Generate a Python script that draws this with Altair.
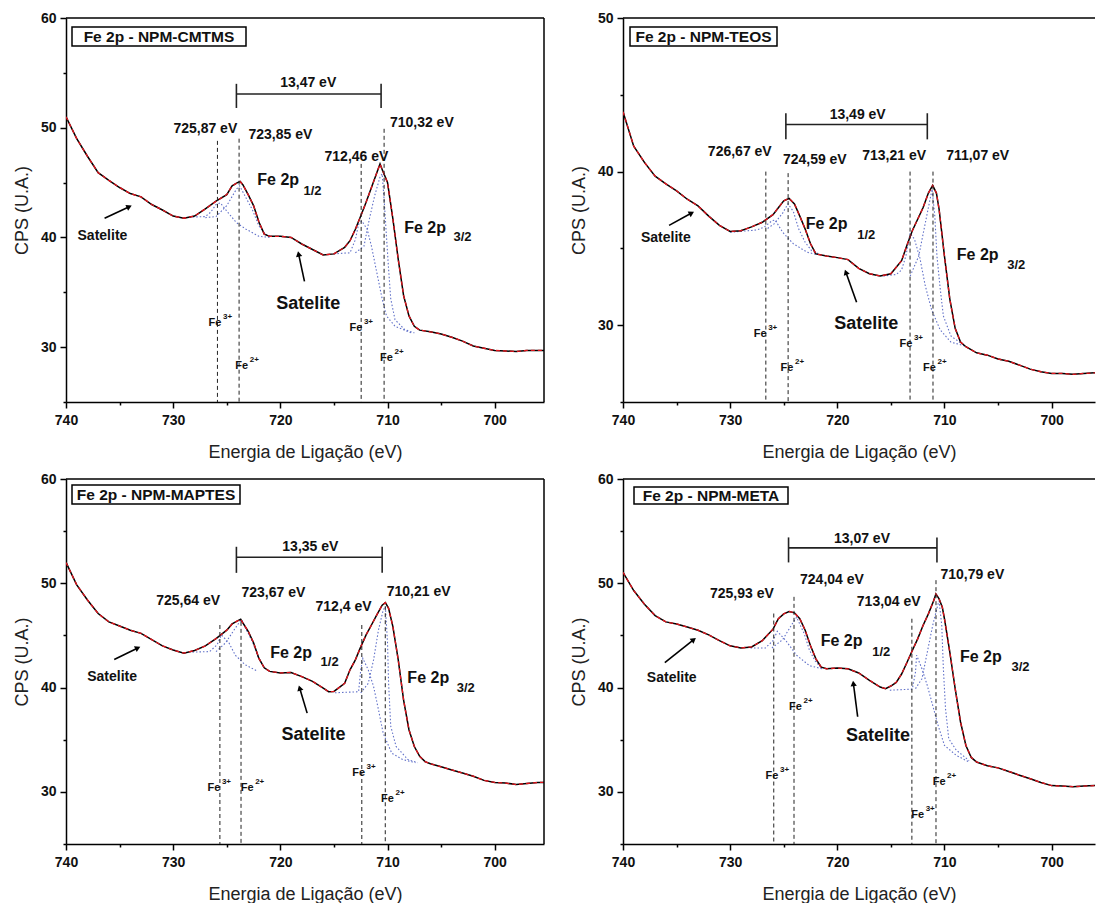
import math
import altair as alt
import pandas as pd

FONT = "Liberation Sans"

# ================= values =================
# ---- Fe 2p - NPM-CMTMS ----
cmtms_energy = [740, 739, 738, 737, 736, 735, 734, 733, 732, 731, 730, 729, 728, 727, 726, 725,
                724.5, 724, 723.75, 723.5, 723, 722.5, 722, 721.5, 721,
                720, 719, 718, 717, 716, 715, 714,
                713.5, 713, 712.5, 712, 711.5, 711, 710.7, 710.5, 710, 709.5, 709, 708.5, 708, 707.5, 707,
                706, 705, 704, 703, 702, 701, 700, 699, 698, 697, 696, 695.4]
cmtms_cps = [51.0, 49.0, 47.4, 45.9, 45.2, 44.55, 44.0, 43.7, 43.0, 42.5, 41.95, 41.75, 41.95, 42.6, 43.3, 43.9,
             44.7, 45.0, 45.1, 44.8, 43.9, 42.9, 41.4, 40.3, 40.1,
             40.1, 40.0, 39.4, 38.9, 38.4, 38.5, 39.1,
             39.7, 40.75, 41.95, 43.2, 44.55, 45.9, 46.7, 46.2, 45.0, 41.7, 38.0, 34.7, 32.85, 31.9, 31.55,
             31.4, 31.2, 30.9, 30.55, 30.1, 29.9, 29.7, 29.65, 29.6, 29.7, 29.7, 29.7]
cmtms_fe3_half = [(728.5, 41.85), (727, 41.9), (726.5, 42.3), (726, 43.0), (725.6, 43.15), (725, 42.4),
                  (724.1, 41.35), (723.2, 40.75), (722, 40.1), (721, 40.0)]
cmtms_fe2_half = [(727, 41.8), (726, 41.9), (725, 42.9), (724.1, 44.4), (723.8, 44.7), (723.2, 43.6),
                  (722.6, 42.5), (722, 41.05), (721.4, 40.3), (721, 40.1)]
cmtms_fe3_3half = [(715, 38.5), (713.5, 38.6), (713, 39.8), (712.7, 41.2), (712.4, 41.5), (711.9, 40.75),
                   (711.5, 39.2), (711, 36.8), (710.5, 34.4), (710.1, 32.85), (709.3, 31.9), (707.8, 31.3)]
cmtms_fe2_3half = [(713, 38.6), (712.2, 39.2), (711.7, 41.65), (711.2, 43.8), (710.7, 45.5), (710.5, 45.8),
                   (710.3, 43.2), (710.1, 40.1), (709.9, 37.1), (709.7, 34.4), (709.3, 32.5), (708.4, 31.6),
                   (707.5, 31.3)]

# ---- Fe 2p - NPM-TEOS ----
teos_energy = [740, 739, 738, 737, 736, 735, 734, 733, 732, 731, 730, 729, 728, 727, 726,
               725.5, 725, 724.5, 724, 723.5, 723, 722.5, 722,
               721, 720, 719, 718, 717, 716, 715, 714,
               713.5, 713, 712.5, 712, 711.5, 711.1, 710.75, 710.5, 710, 709.5, 709, 708.5, 708,
               707, 706, 705, 704, 703, 702, 701, 700, 699, 698, 697, 696, 695.9]
teos_cps = [43.9, 41.66, 40.6, 39.7, 39.2, 38.75, 38.2, 37.77, 37.1, 36.5, 36.1, 36.15, 36.4, 36.7, 37.2,
            37.65, 38.1, 38.25, 37.9, 37.1, 36.26, 35.3, 34.64,
            34.5, 34.4, 34.27, 33.7, 33.35, 33.2, 33.35, 34.2,
            35.2, 36.15, 36.9, 37.65, 38.6, 39.1, 38.6, 37.55, 34.5, 31.7, 29.8, 28.9, 28.6,
            28.2, 28.05, 27.8, 27.65, 27.4, 27.14, 26.97, 26.86, 26.86, 26.8, 26.86, 26.9, 26.9]
teos_fe3_half = [(730, 36.05), (727.5, 36.2), (726.8, 36.4), (726.1, 36.8), (725.8, 36.85), (725.1, 36.05),
                 (724.1, 35.3), (722.8, 34.75), (721.9, 34.6)]
teos_fe2_half = [(726.5, 36.3), (725.9, 36.6), (725.1, 37.3), (724.6, 37.9), (724.1, 37.4), (723.6, 36.26),
                 (723, 35.4), (722.4, 34.85), (721.6, 34.6)]
teos_fe3_3half = [(715.7, 33.2), (714.5, 33.3), (714, 33.6), (713.6, 34.5), (713.2, 36.0), (712.8, 35.6),
                  (712.3, 34.4), (711.8, 32.6), (711.2, 31.0), (710.4, 29.7), (709.4, 28.9), (708.1, 28.65)]
teos_fe2_3half = [(713.2, 33.2), (712.4, 34.5), (711.9, 36.26), (711.4, 38.0), (711.15, 38.85), (710.9, 37.1),
                  (710.7, 34.5), (710.4, 32.4), (710.1, 30.6), (709.4, 29.3), (708.4, 28.8)]

# ---- Fe 2p - NPM-MAPTES ----
maptes_energy = [740, 739, 738, 737, 736, 735, 734, 733, 732, 731, 730, 729, 728, 727, 726, 725,
                 724.5, 724, 723.7, 723.5, 723, 722.5, 722, 721.5, 721,
                 720, 719, 718, 717, 716,
                 715.5, 715, 714, 713.5, 713, 712.5, 712, 711.5, 711, 710.5, 710.2, 709.9, 709.5, 709,
                 708.5, 708, 707.5, 707, 706.5, 706,
                 705, 704, 703, 702, 701, 700, 699, 698, 697, 696, 695.4]
maptes_cps = [52.0, 49.85, 48.4, 47.1, 46.3, 45.9, 45.5, 45.2, 44.6, 44.0, 43.6, 43.3, 43.55, 44.0, 44.7, 45.5,
              46.1, 46.4, 46.55, 46.2, 45.4, 44.3, 42.8, 41.9, 41.55,
              41.4, 41.45, 41.05, 40.6, 39.95,
              39.6, 39.63, 40.4, 41.7, 42.66, 43.9, 45.05, 46.0, 46.97, 47.9, 48.15, 47.6, 45.85, 42.66,
              38.8, 35.96, 34.35, 33.4, 32.9, 32.7,
              32.4, 32.1, 31.8, 31.5, 31.1, 30.9, 30.85, 30.7, 30.8, 30.9, 30.9]
maptes_fe3_half = [(728.2, 43.4), (726.6, 43.45), (725.9, 44.1), (725.5, 45.05), (724.8, 44.3), (724.2, 43.1),
                   (723.3, 42.2), (722.1, 41.55)]
maptes_fe2_half = [(726, 43.45), (725.1, 44.3), (724.4, 45.4), (723.8, 46.3), (723.6, 46.5), (723.2, 45.6),
                   (722.6, 44.4), (722.1, 43.0), (721.5, 41.9), (721, 41.55)]
maptes_fe3_3half = [(714.9, 39.5), (712.7, 39.6), (712.5, 41.7), (712.3, 42.8), (711.8, 41.7), (711.3, 40.1),
                    (710.85, 37.9), (710.4, 35.6), (709.6, 33.7), (708.6, 33.1), (707.4, 32.8)]
maptes_fe2_3half = [(712.5, 39.5), (711.8, 40.4), (711.3, 42.66), (710.85, 45.5), (710.4, 47.45), (710.2, 47.75),
                    (710.0, 44.3), (709.9, 40.4), (709.7, 36.3), (709.2, 34.35), (708.1, 33.1), (707.2, 32.8)]

# ---- Fe 2p - NPM-META ----
meta_energy = [740, 739, 738, 737, 736, 735, 734, 733, 732, 731, 730, 729, 728, 727, 726,
               725.5, 725, 724.5, 724, 723.5, 723, 722.5, 722, 721.5, 721,
               720, 719, 718, 717, 716,
               715.5, 715, 714.5, 714, 713.5, 713, 712.5, 712, 711.5, 711, 710.8, 710.5, 710.2, 710,
               709.5, 709, 708.5, 708, 707.5, 707,
               706, 705, 704, 703, 702, 701, 700, 699, 698, 697, 696, 695.9]
meta_cps = [51.05, 49.3, 48.0, 46.9, 46.3, 46.1, 45.8, 45.5, 45.05, 44.5, 44.0, 43.8, 43.9, 44.5, 45.6,
            46.6, 47.07, 47.3, 47.17, 46.6, 45.5, 44.0, 42.76, 41.96, 41.8,
            41.87, 41.8, 41.4, 40.7, 40.05,
            39.9, 40.15, 40.5, 41.3, 42.4, 43.55, 44.67, 45.95, 47.07, 48.35, 48.98, 48.5, 47.7, 46.6,
            43.4, 39.9, 36.7, 34.45, 33.3, 32.86,
            32.5, 32.3, 31.96, 31.6, 31.26, 30.9, 30.6, 30.55, 30.5, 30.55, 30.6, 30.6]
meta_fe3_half = [(728.1, 43.8), (726.7, 43.8), (726.0, 44.5), (725.6, 45.4), (724.8, 44.5), (723.8, 43.1),
                 (722.6, 42.1), (721.4, 41.8)]
meta_fe2_half = [(726.1, 43.8), (725.1, 44.6), (724.3, 45.95), (723.8, 46.75), (723.6, 46.3), (723.1, 45.2),
                 (722.6, 43.6), (722.1, 42.6), (721.6, 42.0)]
meta_fe3_3half = [(715.1, 39.75), (713, 39.85), (712.7, 41.5), (712.6, 43.1), (712.1, 41.8), (711.6, 40.2),
                  (711.1, 38.3), (710.6, 36.4), (710.0, 34.45), (708.9, 33.5), (707.7, 32.86)]
meta_fe2_3half = [(712.7, 39.9), (712.1, 40.85), (711.6, 43.4), (711.1, 45.95), (710.6, 48.0), (710.5, 48.3),
                  (710.25, 45.95), (710.1, 41.8), (709.9, 37.97), (709.6, 35.1), (708.9, 34.0), (707.7, 33.0)]

# ---- annotations: (text, energy, cps) ----
cmtms_dashed = [(725.87, 48.8), (723.85, 49.0), (712.46, 46.7), (710.32, 49.9)]
cmtms_peak_labels = [("725,87 eV", 727.0, 49.9), ("723,85 eV", 720.0, 49.3), ("712,46 eV", 712.9, 47.3), ("710,32 eV", 706.8, 50.4)]
cmtms_split = ("13,47 eV", 717.4, 54.1, 724.1, 710.6, 53.07, 54.0, 51.8)
cmtms_fe2p = [("Fe 2p", 720.2, 45.2, "1/2", 717.0, 44.2), ("Fe 2p", 706.5, 40.9, "3/2", 703.0, 40.0)]
cmtms_satelite = [("Satelite", 736.6, 40.1, 736.4, 41.75, 734.1, 42.8), ("Satelite", 717.4, 33.9, 717.75, 36.0, 718.3, 38.5)]
cmtms_ions = [("3+", 726.1, 32.2), ("2+", 723.6, 28.3), ("3+", 712.95, 31.7), ("2+", 710.1, 29.0)]

teos_dashed = [(726.67, 40.0), (724.59, 39.9), (713.21, 40.0), (711.07, 40.0)]
teos_peak_labels = [("726,67 eV", 729.1, 41.3), ("724,59 eV", 722.1, 40.75), ("713,21 eV", 714.7, 41.0), ("711,07 eV", 706.9, 41.0)]
teos_split = ("13,49 eV", 718.1, 43.7, 724.8, 711.6, 43.07, 43.8, 42.1)
teos_fe2p = [("Fe 2p", 721.0, 36.6, "1/2", 717.3, 35.9), ("Fe 2p", 706.9, 34.6, "3/2", 703.3, 33.9)]
teos_satelite = [("Satelite", 736.0, 35.65, 735.7, 36.5, 733.6, 37.3), ("Satelite", 717.3, 30.1, 718.2, 31.5, 719.2, 33.45)]
teos_ions = [("3+", 727.2, 29.45), ("2+", 724.7, 27.2), ("3+", 713.6, 28.75), ("2+", 711.4, 27.2)]

maptes_dashed = [(725.64, 46.0), (723.67, 46.3), (712.4, 46.0), (710.21, 47.8)]
maptes_peak_labels = [("725,64 eV", 728.6, 48.3), ("723,67 eV", 720.65, 49.05), ("712,4 eV", 714.1, 47.7), ("710,21 eV", 707.1, 49.2)]
maptes_split = ("13,35 eV", 717.2, 53.5, 724.1, 710.5, 52.5, 53.5, 51.0)
maptes_fe2p = [("Fe 2p", 719.0, 43.3, "1/2", 715.4, 42.5), ("Fe 2p", 706.2, 40.9, "3/2", 702.7, 39.95)]
maptes_satelite = [("Satelite", 735.7, 41.05, 735.5, 42.7, 733.3, 43.8), ("Satelite", 716.9, 35.5, 717.5, 37.55, 718.2, 39.95)]
maptes_ions = [("3+", 726.2, 30.4), ("2+", 723.1, 30.4), ("3+", 712.7, 31.8), ("2+", 710.0, 29.3)]

meta_dashed = [(725.93, 47.1), (724.04, 48.7), (713.04, 46.6), (710.79, 50.3)]
meta_peak_labels = [("725,93 eV", 728.9, 49.0), ("724,04 eV", 720.5, 50.3), ("713,04 eV", 715.2, 48.2), ("710,79 eV", 707.4, 50.8)]
meta_split = ("13,07 eV", 717.7, 54.25, 724.55, 710.7, 53.4, 54.4, 52.0)
meta_fe2p = [("Fe 2p", 719.6, 44.5, "1/2", 715.9, 43.4), ("Fe 2p", 706.6, 42.9, "3/2", 702.9, 42.0)]
meta_satelite = [("Satelite", 735.45, 40.9, 736.1, 42.4, 733.4, 44.6), ("Satelite", 716.2, 35.4, 718.1, 37.2, 718.5, 40.4)]
meta_ions = [("2+", 723.9, 38.1), ("3+", 726.1, 31.5), ("2+", 710.5, 30.9), ("3+", 712.5, 27.75)]

# ================= chart construction =================
def build_panel(title, energy, cps, comps, dashed, peak_labels, split, fe2p, satelite, ions,
                ydom, xmin, W, H, box, right_border):
    ymin, ymax = ydom
    xs = alt.Scale(domain=[xmin, 740], reverse=True, nice=False, zero=False)
    ys = alt.Scale(domain=[ymin, ymax], nice=False, zero=False)
    minor = {"condition": {"test": "datum.value % 10 != 0", "value": 3}, "value": 6}
    xaxis = alt.Axis(values=list(range(700, 741, 5)), title="Energia de Ligação (eV)",
                     labelExpr="datum.value % 10 == 0 ? datum.label : ''", tickSize=minor,
                     labelFlush=False, labelOverlap=False, labelPadding=5,
                     titleX=W / 2, titleY=50, titleAlign="center", titleBaseline="middle")
    yaxis = alt.Axis(values=list(range(int(ymin), int(ymax) + 1, 5)), title="CPS (U.A.)",
                     labelExpr="datum.value % 10 == 0 ? datum.label : ''", tickSize=minor,
                     labelFlush=False, labelOverlap=False, labelPadding=4,
                     titleX=-44, titleY=H / 2, titleAngle=270, titleAlign="center", titleBaseline="middle")

    def X(f="e"):
        return alt.X(f"{f}:Q", scale=xs, axis=xaxis)

    def Y(f="v"):
        return alt.Y(f"{f}:Q", scale=ys, axis=yaxis)

    spec_df = pd.DataFrame({"e": energy, "v": cps})
    rows = []
    for name, pts in comps.items():
        for e, v in pts:
            rows.append({"comp": name, "e": e, "v": v})
    comp_df = pd.DataFrame(rows)

    layers = []
    layers.append(alt.Chart(comp_df).mark_line(color="#6070c8", strokeDash=[1.5, 2], strokeWidth=1.1, clip=True)
                  .encode(x=X(), y=Y(), detail="comp:N"))
    layers.append(alt.Chart(spec_df).mark_line(color="black", strokeWidth=1.5, clip=True).encode(x=X(), y=Y()))
    layers.append(alt.Chart(spec_df).mark_line(color="#e3141c", strokeWidth=1.3, strokeDash=[4, 3], clip=True)
                  .encode(x=X(), y=Y()))

    dash_df = pd.DataFrame({"e": [d[0] for d in dashed], "v": [d[1] for d in dashed], "v2": [ymin] * len(dashed)})
    layers.append(alt.Chart(dash_df).mark_rule(color="#222222", strokeDash=[4, 3], strokeWidth=1)
                  .encode(x=X(), y=Y(), y2="v2:Q"))

    # splitting bracket
    s_text, s_e, s_v, b_e1, b_e2, b_v, t_top, t_bot = split
    layers.append(alt.Chart(pd.DataFrame({"e": [b_e1], "e2": [b_e2], "v": [b_v]}))
                  .mark_rule(color="#222222", strokeWidth=1.6).encode(x=X(), x2="e2:Q", y=Y()))
    layers.append(alt.Chart(pd.DataFrame({"e": [b_e1, b_e2], "v": [t_top, t_top], "v2": [t_bot, t_bot]}))
                  .mark_rule(color="#222222", strokeWidth=1.6).encode(x=X(), y=Y(), y2="v2:Q"))

    # arrows
    pe = W / (740 - xmin)
    pv = H / (ymax - ymin)
    a_rows, tip_rows = [], []
    for i, (_, _, _, te, tv, he, hv) in enumerate(satelite):
        a_rows += [{"a": i, "k": 0, "e": te, "v": tv}, {"a": i, "k": 1, "e": he, "v": hv}]
        dx = (te - he) * pe
        dy = -(hv - tv) * pv
        tip_rows.append({"e": he, "v": hv, "ang": math.degrees(math.atan2(dx, -dy)) % 360})
    layers.append(alt.Chart(pd.DataFrame(a_rows)).mark_line(color="black", strokeWidth=1.6)
                  .encode(x=X(), y=Y(), detail="a:N", order="k:Q"))
    layers.append(alt.Chart(pd.DataFrame(tip_rows))
                  .mark_point(shape="triangle-up", filled=True, size=40, color="black", opacity=1, strokeWidth=0)
                  .encode(x=X(), y=Y(), angle=alt.Angle("ang:Q", scale=None)))

    def text_layer(rows, size, **kw):
        df = pd.DataFrame(rows, columns=["t", "e", "v"])
        return (alt.Chart(df).mark_text(font=FONT, fontWeight="bold", fontSize=size, color="#111111",
                                        baseline="middle", **kw)
                .encode(x=X(), y=Y(), text="t:N"))

    layers.append(text_layer(peak_labels, 14))
    layers.append(text_layer([(s_text, s_e, s_v)], 14))
    layers.append(text_layer([(f[0], f[1], f[2]) for f in fe2p], 16))
    layers.append(text_layer([(f[3], f[4], f[5]) for f in fe2p], 13))
    layers.append(text_layer([(satelite[0][0], satelite[0][1], satelite[0][2])], 14))
    layers.append(text_layer([(satelite[1][0], satelite[1][1], satelite[1][2])], 18))
    layers.append(text_layer([("Fe", i[1], i[2]) for i in ions], 11))
    layers.append(text_layer([(i[0], i[1], i[2]) for i in ions], 8, dx=8, dy=-6, align="left"))

    # sample title box
    bx1, by1, bx2, by2 = box
    one = pd.DataFrame({"t": [title]})
    layers.append(alt.Chart(one).mark_rect(fill="white", stroke="black", strokeWidth=1.5)
                  .encode(x=alt.value(bx1), x2=alt.value(bx2), y=alt.value(by1), y2=alt.value(by2)))
    layers.append(alt.Chart(one).mark_text(font=FONT, fontWeight="bold", fontSize=15.5, color="#111111",
                                           baseline="middle", align="center")
                  .encode(x=alt.value((bx1 + bx2) / 2), y=alt.value((by1 + by2) / 2 + 0.5), text="t:N"))

    # frame (top, and right when visible)
    layers.append(alt.Chart(one).mark_rule(color="black", strokeWidth=1.5)
                  .encode(x=alt.value(0), x2=alt.value(W), y=alt.value(0)))
    if right_border:
        layers.append(alt.Chart(one).mark_rule(color="black", strokeWidth=1.5)
                      .encode(x=alt.value(W), y=alt.value(0), y2=alt.value(H)))

    return alt.layer(*layers).properties(width=W, height=H)


p1 = build_panel("Fe 2p - NPM-CMTMS", cmtms_energy, cmtms_cps,
                 {"a": cmtms_fe3_half, "b": cmtms_fe2_half, "c": cmtms_fe3_3half, "d": cmtms_fe2_3half},
                 cmtms_dashed, cmtms_peak_labels, cmtms_split, cmtms_fe2p, cmtms_satelite, cmtms_ions,
                 (25, 60), 695.4, 478, 384, (6, 9, 180, 28), True)
p2 = build_panel("Fe 2p - NPM-TEOS", teos_energy, teos_cps,
                 {"a": teos_fe3_half, "b": teos_fe2_half, "c": teos_fe3_3half, "d": teos_fe2_3half},
                 teos_dashed, teos_peak_labels, teos_split, teos_fe2p, teos_satelite, teos_ions,
                 (25, 50), 695.95, 472, 384, (7, 9, 154, 28), False)
p3 = build_panel("Fe 2p - NPM-MAPTES", maptes_energy, maptes_cps,
                 {"a": maptes_fe3_half, "b": maptes_fe2_half, "c": maptes_fe3_3half, "d": maptes_fe2_3half},
                 maptes_dashed, maptes_peak_labels, maptes_split, maptes_fe2p, maptes_satelite, maptes_ions,
                 (25, 60), 695.4, 478, 365, (6, 6, 174, 25), True)
p4 = build_panel("Fe 2p - NPM-META", meta_energy, meta_cps,
                 {"a": meta_fe3_half, "b": meta_fe2_half, "c": meta_fe3_3half, "d": meta_fe2_3half},
                 meta_dashed, meta_peak_labels, meta_split, meta_fe2p, meta_satelite, meta_ions,
                 (25, 60), 695.95, 472, 365, (11, 8, 165, 25), False)

chart = (alt.concat(p1, p2, p3, p4, columns=2, spacing={"row": 77, "column": 79}, bounds="flush")
         .properties(padding={"left": 13, "top": 11, "right": 0, "bottom": 0}, background="white")
         .configure_view(stroke=None)
         .configure_axis(grid=False, domainColor="black", domainWidth=1.5, tickColor="black", tickWidth=1.5,
                         labelFont=FONT, labelFontWeight="bold", labelFontSize=14, labelColor="#111111",
                         titleFont=FONT, titleFontWeight="normal", titleFontSize=18, titleColor="#222222"))

chart.save("out.html", embed_options={"renderer": "svg", "actions": False})
